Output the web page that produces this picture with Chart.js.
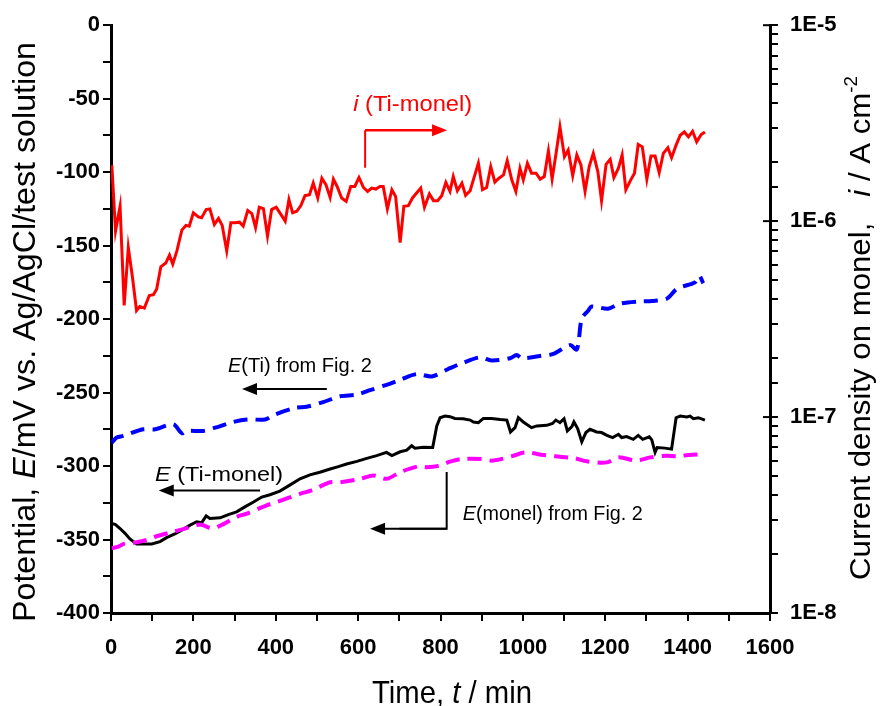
<!DOCTYPE html>
<html>
<head>
<meta charset="utf-8">
<script src="https://cdn.jsdelivr.net/npm/chart.js@4.4.0/dist/chart.umd.min.js"></script>
<style>
html,body{margin:0;padding:0;background:#fff;}
#wrap{width:882px;height:706px;}
canvas{display:block;}
</style>
</head>
<body>
<div id="wrap"><canvas id="c" width="882" height="706"></canvas></div>
<script>
// ---------- DATA ----------
// Current density on monel, i (Ti-monel) [A cm^-2], right log axis
const iTime = [2,11,22,32,42,52,62,70,81,93,
 103,111,121,133,142,150,160,172,182,190,
 200,212,220,231,240,251,261,270,281,291,
 301,312,321,332,342,351,360,370,380,390,
 401,410,423,432,441,451,461,471,482,491,
 502,512,522,532,540,549,560,571,582,592,
 602,613,623,633,643,653,661,671,682,691,
 702,711,722,732,742,752,761,773,783,793,
 803,813,823,831,841,852,861,872,881,892,
 902,912,922,932,942,953,962,973,983,993,
 1001,1011,1021,1032,1042,1052,1062,1071,1080,1090,
 1101,1110,1121,1131,1141,1151,1161,1171,1182,1191,
 1202,1212,1221,1232,1241,1250,1262,1271,1280,1290,
 1301,1311,1321,1331,1341,1352,1361,1372,1382,1392,
 1402,1412,1422,1433,1442];
const iCurrent = [1.93e-6,0.89e-6,1.19e-6,0.371e-6,0.733e-6,0.519e-6,0.350e-6,0.367e-6,0.360e-6,0.417e-6,
 0.421e-6,0.451e-6,0.585e-6,0.611e-6,0.670e-6,0.604e-6,0.705e-6,0.900e-6,0.951e-6,0.943e-6,
 1.102e-6,1.052e-6,1.040e-6,1.146e-6,1.155e-6,0.962e-6,1.032e-6,0.951e-6,0.705e-6,0.981e-6,
 0.981e-6,0.988e-6,0.943e-6,1.132e-6,1.093e-6,0.926e-6,1.177e-6,1.159e-6,0.839e-6,1.146e-6,
 1.177e-6,1.102e-6,1.000e-6,1.287e-6,1.102e-6,1.123e-6,1.200e-6,1.349e-6,1.364e-6,1.564e-6,
 1.313e-6,1.657e-6,1.533e-6,1.322e-6,1.638e-6,1.503e-6,1.313e-6,1.262e-6,1.503e-6,1.503e-6,
 1.669e-6,1.485e-6,1.418e-6,1.475e-6,1.458e-6,1.503e-6,1.503e-6,1.155e-6,1.446e-6,1.337e-6,
 0.777e-6,1.190e-6,1.200e-6,1.313e-6,1.392e-6,1.475e-6,1.177e-6,1.376e-6,1.272e-6,1.272e-6,
 1.349e-6,1.575e-6,1.418e-6,1.689e-6,1.430e-6,1.564e-6,1.353e-6,1.430e-6,1.657e-6,1.974e-6,
 1.446e-6,1.485e-6,1.897e-6,1.582e-6,1.657e-6,1.722e-6,2.034e-6,1.624e-6,1.418e-6,1.862e-6,
 1.624e-6,1.974e-6,1.757e-6,1.757e-6,1.638e-6,1.689e-6,2.278e-6,1.641e-6,2.175e-6,3.023e-6,
 2.132e-6,2.305e-6,1.708e-6,2.175e-6,1.934e-6,1.418e-6,1.897e-6,2.218e-6,1.790e-6,1.272e-6,
 1.951e-6,2.068e-6,1.669e-6,1.862e-6,2.175e-6,1.446e-6,1.624e-6,1.757e-6,2.462e-6,2.395e-6,
 1.638e-6,2.149e-6,2.149e-6,1.769e-6,2.218e-6,2.367e-6,2.106e-6,2.443e-6,2.745e-6,2.852e-6,
 2.691e-6,2.875e-6,2.539e-6,2.767e-6,2.852e-6];

// E (Ti-monel) [mV], left axis
const eCoupleTime = [2,11,22,34,46,62,78,99,119,135,155,176,192,208,220,231,240,265,285,305,
 325,346,366,386,410,435,459,483,507,532,552,572,597,621,645,669,682,702,718,730,
 738,758,781,791,799,811,823,835,855,872,880,892,904,924,945,961,970,981,989,1001,
 1021,1034,1058,1072,1080,1090,1100,1108,1119,1124,1133,1143,1153,1163,1179,1191,1204,1218,1232,1240,
 1252,1268,1280,1291,1307,1313,1321,1326,1345,1361,1372,1382,1398,1406,1414,1426,1442];
const eCoupleValue = [-339.1,-339.8,-342.5,-345.8,-349.6,-353.0,-353.0,-353.0,-351.4,-348.7,-346.2,-342.9,-340.2,-337.9,-338.6,-333.9,-335.7,-335.2,-333.0,-331.2,
 -327.8,-324.5,-321.1,-319.5,-317.0,-312.8,-308.7,-306.0,-304.2,-302.0,-300.4,-298.6,-296.8,-294.8,-292.9,-290.7,-292.9,-290.3,-289.2,-286.2,
 -287.8,-287.2,-287.4,-272.7,-267.1,-266.0,-266.4,-267.6,-267.8,-268.7,-270.0,-270.5,-267.6,-267.6,-268.3,-268.7,-276.8,-273.9,-267.1,-270.0,
 -273.9,-272.7,-272.3,-271.0,-268.7,-270.5,-267.8,-276.1,-273.2,-270.0,-274.5,-283.5,-277.2,-275.0,-276.8,-277.2,-279.1,-280.6,-278.4,-280.6,
 -279.9,-281.8,-279.1,-281.8,-280.1,-282.2,-290.7,-287.4,-287.8,-288.5,-267.1,-266.0,-266.6,-266.0,-267.8,-267.1,-268.7];

// E(Ti) from Fig. 2 [mV], left axis
const eTiTime = [2,14,30,78,107,151,172,184,224,253,297,330,374,398,447,475,515,556,597,629,
 669,702,742,779,815,823,852,896,924,969,985,997,1042,1074,1114,1131,1143,1159,1167,1207,
 1236,1284,1313,1349,1374,1418,1428,1438];
const eTiValue = [-284.0,-280.6,-279.5,-275.0,-275.0,-271.6,-277.7,-276.1,-276.1,-273.9,-270.0,-268.3,-268.3,-264.9,-260.4,-259.7,-256.5,-252.5,-251.4,-248.4,
 -244.7,-241.3,-237.4,-239.0,-234.5,-233.4,-230.0,-226.0,-228.2,-226.6,-224.4,-226.6,-225.1,-223.7,-217.7,-220.6,-199.7,-194.1,-191.4,-192.9,
 -189.5,-188.0,-187.7,-186.2,-179.4,-174.9,-170.5,-175.6];

// E(monel) from Fig. 2 [mV], left axis
const eMonelTime = [2,18,34,62,87,107,151,176,216,245,265,305,330,378,402,459,487,532,556,605,
 637,669,702,746,767,799,823,852,900,928,977,1005,1050,1078,1127,1155,1204,1232,1276,1309,
 1349,1377,1402,1442];
const eMonelValue = [-355.9,-354.8,-352.6,-351.9,-350.3,-348.1,-344.7,-342.9,-339.8,-342.5,-340.6,-334.6,-332.3,-326.7,-324.5,-318.9,-316.6,-311.0,-311.0,-308.7,
 -306.4,-308.7,-304.2,-300.2,-300.8,-299.7,-297.0,-295.2,-295.2,-296.3,-293.0,-290.7,-292.5,-293.4,-294.8,-296.8,-297.5,-294.1,-296.3,-294.1,
 -293.0,-293.4,-292.5,-291.9];

// Axis ranges / ticks
const xRange = [0, 1600];
const xTickStep = 100;
const xLabelStep = 200;
const eRange = [-400, 0];
const eTickStep = 25;
const eLabelStep = 50;
const iRange = [1e-8, 1e-5];
const iDecades = [1e-8, 1e-7, 1e-6, 1e-5];

// ---------- RENDER ----------
const FAM = '"Liberation Sans", Arial, Helvetica, sans-serif';

function pts(xs, ys){ return xs.map((x,k)=>({x:x, y:ys[k]})); }

function segWidth(ctx, segs){
  let w = 0;
  segs.forEach(s=>{
    ctx.font = (s.italic?'italic ':'') + s.size + 'px ' + FAM;
    s.w = ctx.measureText(s.text).width;
    w += s.w;
  });
  return w;
}
function drawSegs(ctx, segs, align, targetW, color){
  const w = segWidth(ctx, segs);
  const sx = targetW ? targetW / w : 1;
  ctx.save();
  ctx.scale(sx, 1);
  let cx = align === 'center' ? -w/2 : 0;
  ctx.textAlign = 'left';
  ctx.textBaseline = 'alphabetic';
  ctx.fillStyle = color || '#000';
  segs.forEach(s=>{
    ctx.font = (s.italic?'italic ':'') + s.size + 'px ' + FAM;
    ctx.fillText(s.text, cx, s.dy || 0);
    cx += s.w;
  });
  ctx.restore();
}
function arrow(ctx, x1, y1, x2, y2, color, lw){
  const a = Math.atan2(y2-y1, x2-x1);
  const L = 15, W = 6;
  const c = Math.cos(a), s = Math.sin(a);
  ctx.save();
  ctx.strokeStyle = color; ctx.fillStyle = color; ctx.lineWidth = lw || 2;
  ctx.beginPath(); ctx.moveTo(x1, y1); ctx.lineTo(x2 - L*c*0.7, y2 - L*s*0.7); ctx.stroke();
  ctx.beginPath();
  ctx.moveTo(x2, y2);
  ctx.lineTo(x2 - L*c + W*s, y2 - L*s - W*c);
  ctx.lineTo(x2 - L*c - W*s, y2 - L*s + W*c);
  ctx.closePath(); ctx.fill();
  ctx.restore();
}
function line(ctx, pts, color, lw){
  ctx.save(); ctx.strokeStyle = color; ctx.lineWidth = lw || 2;
  ctx.beginPath(); ctx.moveTo(pts[0][0], pts[0][1]);
  for (let k=1;k<pts.length;k++) ctx.lineTo(pts[k][0], pts[k][1]);
  ctx.stroke(); ctx.restore();
}

const decorPlugin = {
  id: 'decor',
  afterDraw(chart){
    const ctx = chart.ctx;
    const xs = chart.scales.x, ys = chart.scales.y, ys2 = chart.scales.y2;
    const X = v => xs.getPixelForValue(v);
    const Y = v => ys.getPixelForValue(v);
    const area = chart.chartArea;

    // inward parts of crossing ticks
    line(ctx, [[X(xRange[0]), area.bottom], [X(xRange[0]), area.bottom - 7]], '#000', 2);
    line(ctx, [[X(xRange[1]), area.bottom], [X(xRange[1]), area.bottom - 7]], '#000', 2);
    line(ctx, [[area.left, Y(eRange[0])], [area.left + 7, Y(eRange[0])]], '#000', 2);
    iDecades.forEach(v => line(ctx, [[area.right, ys2.getPixelForValue(v)], [area.right - 7, ys2.getPixelForValue(v)]], '#000', 2));

    // left axis title
    ctx.save();
    ctx.translate(35, 332);
    ctx.rotate(-Math.PI/2);
    drawSegs(ctx, [
      {text:'Potential, ', size:32},
      {text:'E', size:32, italic:true},
      {text:'/mV vs. Ag/AgCl/test solution', size:32}
    ], 'center', 580);
    ctx.restore();

    // right axis title
    ctx.save();
    ctx.translate(870, 328);
    ctx.rotate(-Math.PI/2);
    drawSegs(ctx, [
      {text:'Current density on monel,   ', size:30},
      {text:'i', size:30, italic:true},
      {text:' / A cm', size:30},
      {text:'-2', size:18, dy:-13}
    ], 'center', 504);
    ctx.restore();

    // x axis title
    ctx.save();
    ctx.translate(452, 703);
    drawSegs(ctx, [
      {text:'Time, ', size:32},
      {text:'t', size:32, italic:true},
      {text:' / min', size:32}
    ], 'center', 160);
    ctx.restore();

    // --- annotations (anchored in data coordinates) ---
    ctx.save();
    ctx.translate(X(588), Y(-53) + 8);
    drawSegs(ctx, [{text:'i', size:22, italic:true},{text:' (Ti-monel)', size:22}], 'left', 119, '#ff0000');
    ctx.restore();
    line(ctx, [[X(617), Y(-97)], [X(617), Y(-71.5)]], '#ff0000', 2);
    arrow(ctx, X(617), Y(-71.5), X(816), Y(-71.5), '#ff0000', 2.5);

    ctx.save();
    ctx.translate(X(284), Y(-231) + 7);
    drawSegs(ctx, [{text:'E', size:20, italic:true},{text:'(Ti) from Fig. 2', size:20}], 'left', 144);
    ctx.restore();
    arrow(ctx, X(524), Y(-247.6), X(318), Y(-247.6), '#000', 2);

    ctx.save();
    ctx.translate(X(107), Y(-305) + 7.5);
    drawSegs(ctx, [{text:'E', size:21, italic:true},{text:' (Ti-monel)', size:21}], 'left', 128);
    ctx.restore();
    arrow(ctx, X(362), Y(-316.7), X(116), Y(-316.7), '#000', 2);

    ctx.save();
    ctx.translate(X(854), Y(-332) + 7);
    drawSegs(ctx, [{text:'E', size:20, italic:true},{text:'(monel) from Fig. 2', size:20}], 'left', 180);
    ctx.restore();
    line(ctx, [[X(815), Y(-304)], [X(815), Y(-342.7)], [X(700), Y(-342.7)]], '#000', 2);
    arrow(ctx, X(815), Y(-342.7), X(629), Y(-342.7), '#000', 2);
  }
};

const tickFont = {family: FAM, size: 22, weight: 'bold'};
const gridOpt = {drawOnChartArea:false, drawTicks:true, tickLength:8, color:'#000', lineWidth:2};
const borderOpt = {display:true, color:'#000', width:3};

new Chart(document.getElementById('c').getContext('2d'), {
  type: 'line',
  data: {
    datasets: [
      {label:'i (Ti-monel)', data: pts(iTime, iCurrent), yAxisID:'y2', xAxisID:'x',
       borderColor:'#ff0000', borderWidth:3, pointRadius:0, tension:0, fill:false},
      {label:'E(Ti) from Fig. 2', data: pts(eTiTime, eTiValue), yAxisID:'y', xAxisID:'x',
       borderColor:'#0000ff', borderWidth:4, borderDash:[14,8], pointRadius:0, tension:0.3, fill:false},
      {label:'E(monel) from Fig. 2', data: pts(eMonelTime, eMonelValue), yAxisID:'y', xAxisID:'x',
       borderColor:'#ff00ff', borderWidth:4, borderDash:[14,8], pointRadius:0, tension:0.3, fill:false},
      {label:'E (Ti-monel)', data: pts(eCoupleTime, eCoupleValue), yAxisID:'y', xAxisID:'x',
       borderColor:'#000000', borderWidth:3, pointRadius:0, tension:0, fill:false}
    ]
  },
  options: {
    responsive: false,
    animation: false,
    layout: {padding: {top: 20, left: 0, right: 0, bottom: 0}},
    plugins: {legend: {display:false}, tooltip: {enabled:false}},
    scales: {
      x: {
        type:'linear', position:'bottom', min:xRange[0], max:xRange[1],
        ticks:{stepSize:xTickStep, autoSkip:false, maxRotation:0, font:tickFont, color:'#000', padding:14,
               callback: v => (v % xLabelStep === 0 ? String(v) : '')},
        grid: gridOpt, border: borderOpt,
        afterFit: s => { s.height = 93; }
      },
      y: {
        type:'linear', position:'left', min:eRange[0], max:eRange[1],
        ticks:{stepSize:eTickStep, autoSkip:false, font:tickFont, color:'#000', padding:3,
               callback: v => (v % eLabelStep === 0 ? String(v) : '')},
        grid: gridOpt, border: borderOpt,
        afterFit: s => { s.width = 111; }
      },
      y2: {
        type:'logarithmic', position:'right', min:iRange[0], max:iRange[1],
        ticks:{autoSkip:false, font:tickFont, color:'#000', padding:12,
               callback: v => { const l = Math.log10(v); const r = Math.round(l);
                                return Math.abs(l - r) < 1e-6 ? '1E' + r : ''; }},
        grid: gridOpt, border: borderOpt,
        afterFit: s => { s.width = 112; }
      }
    }
  },
  plugins: [decorPlugin]
});
</script>
</body>
</html>
